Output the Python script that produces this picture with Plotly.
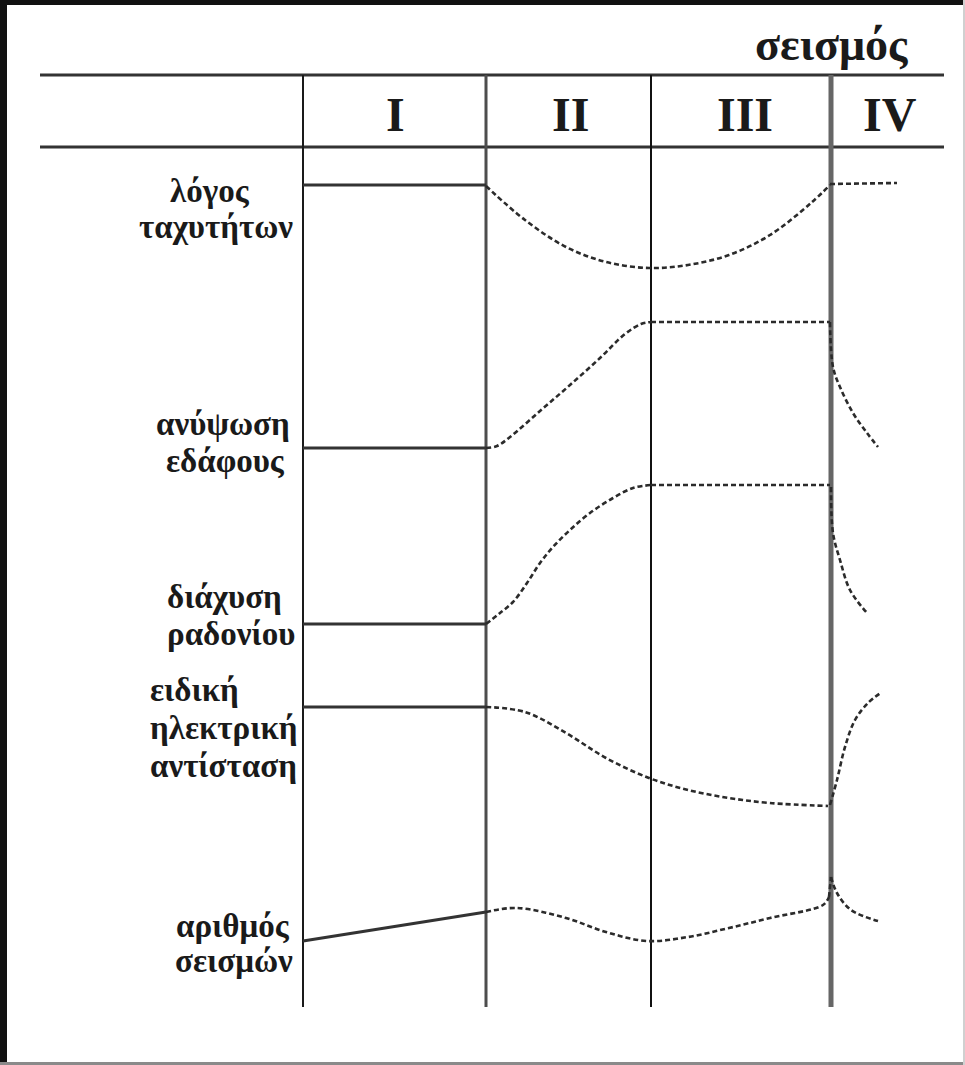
import plotly.graph_objects as go

W, H = 965, 1065

# stage boundaries (drawing units = pixels of the sketch)
stage_x = [303, 486, 651, 831]
stage_names = ["I", "II", "III", "IV"]
stage_label_x = [395, 570, 745, 890]

# λόγος ταχυτήτων
speed_solid_x = [303, 486]
speed_solid_y = [185, 185]
speed_dash_x = [486, 525, 566, 606, 649, 688, 729, 770, 811, 830]
speed_dash_y = [186, 220, 247, 262, 268, 265, 255, 235, 203, 185]
speed_after_x = [830, 897]
speed_after_y = [184, 183]

# ανύψωση εδάφους
uplift_solid_x = [303, 486]
uplift_solid_y = [448, 448]
uplift_dash_x = [486, 497, 510, 540, 570, 600, 625, 641, 651]
uplift_dash_y = [448, 446, 437, 411, 385, 358, 334, 324, 322]
uplift_flat_x = [651, 830]
uplift_flat_y = [322, 322]
uplift_after_x = [830, 833, 840, 853, 867, 878]
uplift_after_y = [322, 367, 387, 413, 433, 447]

# διάχυση ραδονίου
radon_solid_x = [303, 486]
radon_solid_y = [624, 624]
radon_dash_x = [486, 500, 513, 527, 540, 553, 570, 590, 613, 633, 651]
radon_dash_y = [624, 613, 602, 583, 563, 547, 530, 513, 498, 488, 485]
radon_flat_x = [651, 830]
radon_flat_y = [485, 485]
radon_after_x = [831, 833, 840, 850, 867]
radon_after_y = [487, 533, 560, 590, 613]

# ειδική ηλεκτρική αντίσταση
resist_solid_x = [303, 486]
resist_solid_y = [707, 707]
resist_dash_x = [486, 525, 566, 606, 649, 688, 729, 770, 828]
resist_dash_y = [707, 712, 733, 758, 778, 790, 798, 803, 806]
resist_after_x = [830, 837, 845, 855, 868, 882]
resist_after_y = [805, 780, 747, 720, 703, 692]

# αριθμός σεισμών
count_solid_x = [303, 486]
count_solid_y = [941, 912]
count_dash_x = [486, 517, 566, 606, 647, 688, 729, 770, 823, 829]
count_dash_y = [912, 908, 918, 932, 941, 937, 928, 918, 905, 897]
count_spike_x = [829, 831]
count_spike_y = [897, 877]
count_after_x = [831, 837, 851, 878]
count_after_y = [877, 893, 910, 921]

# row labels: (text, x, y, anchor)
row_labels = [
    ("λόγος", 210, 191, "center"),
    ("ταχυτήτων", 216, 227, "center"),
    ("ανύψωση", 223, 424, "center"),
    ("εδάφους", 225, 461, "center"),
    ("διάχυση", 224, 597, "center"),
    ("ραδονίου", 231, 634, "center"),
    ("ειδική", 148, 690, "left"),
    ("ηλεκτρική", 148, 728, "left"),
    ("αντίσταση", 148, 766, "left"),
    ("αριθμός", 233, 926, "center"),
    ("σεισμών", 234, 961, "center"),
]

SERIF = "Liberation Serif"
INK = "#2b2b2b"

fig = go.Figure()


def solid(x, y):
    fig.add_trace(go.Scatter(x=x, y=y, mode="lines",
                             line=dict(color="#333333", width=3),
                             hoverinfo="skip"))


def dashed(x, y, smooth=True):
    fig.add_trace(go.Scatter(x=x, y=y, mode="lines",
                             line=dict(color=INK, width=2.6, dash="5px,3px",
                                       shape="spline" if smooth else "linear",
                                       smoothing=1.0),
                             hoverinfo="skip"))


solid(speed_solid_x, speed_solid_y)
dashed(speed_dash_x, speed_dash_y)
dashed(speed_after_x, speed_after_y, False)

solid(uplift_solid_x, uplift_solid_y)
dashed(uplift_dash_x, uplift_dash_y)
dashed(uplift_flat_x, uplift_flat_y, False)
dashed(uplift_after_x, uplift_after_y)

solid(radon_solid_x, radon_solid_y)
dashed(radon_dash_x, radon_dash_y)
dashed(radon_flat_x, radon_flat_y, False)
dashed(radon_after_x, radon_after_y)

solid(resist_solid_x, resist_solid_y)
dashed(resist_dash_x, resist_dash_y)
dashed(resist_after_x, resist_after_y)

solid(count_solid_x, count_solid_y)
dashed(count_dash_x, count_dash_y)
dashed(count_spike_x, count_spike_y, False)
dashed(count_after_x, count_after_y)

shapes = []
# table rules
for yy in (75, 147):
    shapes.append(dict(type="line", x0=40, x1=944, y0=yy, y1=yy,
                       line=dict(color="#333333", width=3), layer="below"))
v_styles = [("#1a1a1a", 2), ("#4d4d4d", 3), ("#111111", 2), ("#666666", 5)]
for sx, (c, w) in zip(stage_x, v_styles):
    shapes.append(dict(type="line", x0=sx, x1=sx, y0=75, y1=1007,
                       line=dict(color=c, width=w), layer="below"))
# picture frame
shapes += [
    dict(type="rect", x0=0, x1=7, y0=0, y1=H, fillcolor="#111111", line_width=0),
    dict(type="rect", x0=0, x1=W, y0=0, y1=5, fillcolor="#111111", line_width=0),
    dict(type="rect", x0=0, x1=W, y0=1062, y1=H, fillcolor="#8a8a8a", line_width=0),
    dict(type="rect", x0=963, x1=W, y0=0, y1=H, fillcolor="#d0d0d0", line_width=0),
]

annotations = [dict(x=910, y=44, text="<b>σεισμός</b>", showarrow=False,
                    xanchor="right", yanchor="middle",
                    font=dict(family=SERIF, size=46, color="#1a1a1a"))]
for name, lx in zip(stage_names, stage_label_x):
    annotations.append(dict(x=lx, y=114, text="<b>%s</b>" % name, showarrow=False,
                            xanchor="center", yanchor="middle",
                            font=dict(family=SERIF, size=48, color="#1a1a1a")))
for txt, lx, ly, anc in row_labels:
    annotations.append(dict(x=lx, y=ly, text="<b>%s</b>" % txt, showarrow=False,
                            xanchor=anc, yanchor="middle",
                            font=dict(family=SERIF, size=33, color="#1a1a1a")))

fig.update_layout(
    width=W, height=H,
    margin=dict(l=0, r=0, t=0, b=0),
    paper_bgcolor="white", plot_bgcolor="white",
    showlegend=False,
    xaxis=dict(range=[0, W], visible=False, fixedrange=True),
    yaxis=dict(range=[H, 0], visible=False, fixedrange=True),
    shapes=shapes,
    annotations=annotations,
)

fig.write_html("out.html", config={"displayModeBar": False},
               post_script="document.body.style.margin='0';document.body.style.overflow='hidden';")
